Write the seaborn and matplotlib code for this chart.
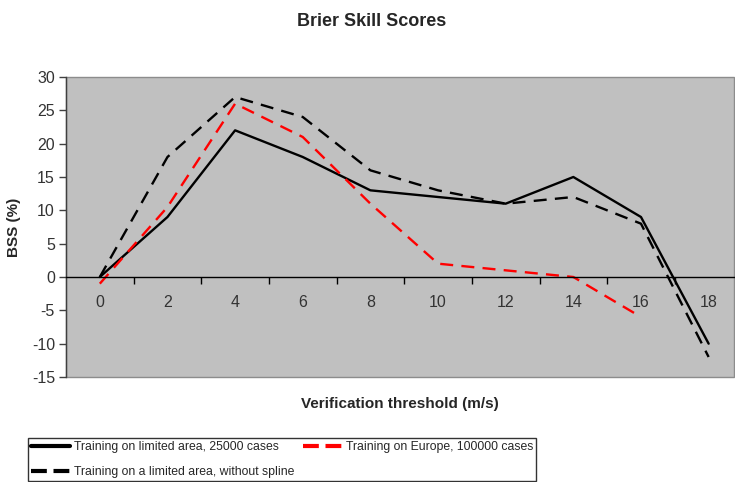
import matplotlib
matplotlib.use("Agg")
import matplotlib.pyplot as plt
import seaborn as sns
import pandas as pd
from matplotlib.lines import Line2D

thresholds = [0, 2, 4, 6, 8, 10, 12, 14, 16, 18]
limited_area = [0, 9, 22, 18, 13, 12, 11, 15, 9, -10]
no_spline = [0, 18, 27, 24, 16, 13, 11, 12, 8, -12]
europe_x = [0, 2, 4, 6, 8, 10, 12, 14, 16]
europe = [-1, 10.5, 26, 21, 11, 2, 1, 0, -6]

labels = ["Training on limited area, 25000 cases",
          "Training on a limited area, without spline",
          "Training on Europe, 100000 cases"]

sns.set_theme(style="white")
plt.rcParams['font.family'] = ['Liberation Sans', 'DejaVu Sans']
plt.rcParams['axes.unicode_minus'] = False

fig = plt.figure(figsize=(7.35, 4.82), dpi=100)
ax = fig.add_axes([66/735, 1 - 377/482, (734 - 66)/735, 300/482])

df1 = pd.DataFrame({"x": thresholds, "y": limited_area})
df2 = pd.DataFrame({"x": thresholds, "y": no_spline})
df3 = pd.DataFrame({"x": europe_x, "y": europe})

sns.lineplot(data=df1, x="x", y="y", ax=ax, color="black", lw=1.7)
sns.lineplot(data=df2, x="x", y="y", ax=ax, color="black", lw=1.7,
             linestyle=(0, (5.5, 3.5)))
sns.lineplot(data=df3, x="x", y="y", ax=ax, color="red", lw=1.7,
             linestyle=(0, (5.5, 3.5)))

ax.set_facecolor("#C0C0C0")
ax.patch.set_edgecolor("#8c8c8c")
ax.patch.set_linewidth(1.0)
ax.set_xlim(-1, 18.75)
ax.set_ylim(-15, 30)

for s in ["top", "right"]:
    ax.spines[s].set_visible(False)
ax.spines["left"].set_color("#404040")
ax.spines["left"].set_linewidth(1.0)
ax.spines["bottom"].set_position(("data", 0))
ax.spines["bottom"].set_color("black")
ax.spines["bottom"].set_linewidth(1.0)

ax.set_yticks(range(-15, 31, 5))
ax.set_xticks(thresholds)
ax.set_xticks([1, 3, 5, 7, 9, 11, 13, 15, 17], minor=True)
ax.tick_params(axis="x", which="major", length=0, pad=13, labelsize=11.5, labelcolor="#333333")
ax.tick_params(axis="x", which="minor", length=5, width=1, direction="out", color="black", bottom=True)
ax.tick_params(axis="y", which="major", length=5, width=1, direction="out", color="#404040",
               left=True, labelsize=11.5, labelcolor="#333333", pad=3)

ax.set_xlabel("")
ax.set_ylabel("BSS (%)", fontsize=11, fontweight="bold", labelpad=8)
fig.text(372/735, 1 - 22/482, "Brier Skill Scores", ha="center", va="center",
         fontsize=13, fontweight="bold")
fig.text(400/735, 1 - 404/482, "Verification threshold (m/s)", ha="center", va="center",
         fontsize=11, fontweight="bold")

handles = [Line2D([], [], color="black", lw=3),
           Line2D([], [], color="black", lw=3, linestyle=(0, (3.8, 1.6))),
           Line2D([], [], color="red", lw=3, linestyle=(0, (3.8, 1.6)))]
leg = fig.legend(handles, labels, ncol=2, loc="upper left",
                 bbox_to_anchor=(22/735, 1 - 432/482), frameon=True, fancybox=False,
                 edgecolor="black", handlelength=3.2, handletextpad=0.3,
                 columnspacing=0.7, labelspacing=1.05, borderpad=0.25,
                 prop={"family": ["Liberation Sans Narrow", "Liberation Sans"], "size": 8.8})
leg.get_frame().set_linewidth(1.0)

fig.savefig("out.png", dpi=100)
